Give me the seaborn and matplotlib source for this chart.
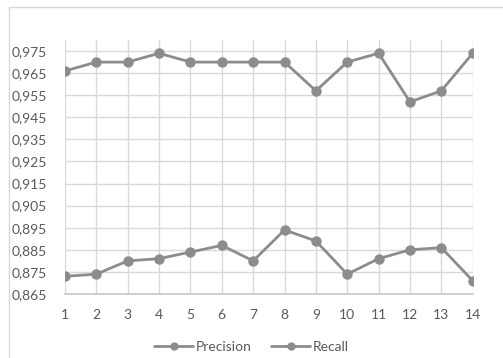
import numpy as np
import pandas as pd
import seaborn as sns
import matplotlib
matplotlib.use("Agg")
import matplotlib.pyplot as plt
from matplotlib.ticker import FuncFormatter, FixedLocator
from matplotlib.lines import Line2D

x_labels = list(range(1, 15))
precision = [0.966, 0.970, 0.970, 0.974, 0.970, 0.970, 0.970, 0.970, 0.957, 0.970, 0.974, 0.952, 0.957, 0.974]
recall = [0.873, 0.874, 0.880, 0.881, 0.884, 0.887, 0.880, 0.894, 0.889, 0.874, 0.881, 0.885, 0.886, 0.871]
y_ticks = [0.865, 0.875, 0.885, 0.895, 0.905, 0.915, 0.925, 0.935, 0.945, 0.955, 0.965, 0.975]

sns.set_theme(style="white")
plt.rcParams['font.family'] = ['Lato', 'DejaVu Sans']

line_color = "#8c8c8c"
grid_color = "#d9d9d9"
text_color = "#595959"

fig = plt.figure(figsize=(5.03, 3.58), dpi=100)
ax = fig.add_axes([65/503, 1-294/358, (472.7-65)/503, (294-40)/358])

df_p = pd.DataFrame({"x": x_labels, "y": precision})
df_r = pd.DataFrame({"x": x_labels, "y": recall})
sns.lineplot(data=df_p, x="x", y="y", ax=ax, color=line_color, marker="o",
             markersize=7.5, markeredgewidth=0, linewidth=2, label="Precision", zorder=3)
sns.lineplot(data=df_r, x="x", y="y", ax=ax, color=line_color, marker="o",
             markersize=7.5, markeredgewidth=0, linewidth=2, label="Recall", zorder=3)

ax.set_xlim(1, 14)
ax.set_ylim(0.865, 0.98)
ax.xaxis.set_major_locator(FixedLocator(x_labels))
ax.yaxis.set_major_locator(FixedLocator(y_ticks))
ax.yaxis.set_major_formatter(FuncFormatter(lambda v, p: f"{v:.3f}".replace(".", ",")))
ax.set_xlabel("")
ax.set_ylabel("")
ax.grid(True, color=grid_color, linewidth=1)
ax.set_axisbelow(True)
for s in ["top", "right", "left"]:
    ax.spines[s].set_visible(False)
ax.spines["bottom"].set_color("#c8c8c8")
ax.spines["bottom"].set_linewidth(1.2)
ax.tick_params(axis="both", length=0, labelsize=10, labelcolor=text_color)
ax.tick_params(axis="x", pad=11)
ax.tick_params(axis="y", pad=13)

ax.legend_.remove() if ax.legend_ else None
handles, labels = ax.get_legend_handles_labels()
leg = fig.legend(handles, labels, loc="center", bbox_to_anchor=(0.5, 1-347/358), ncol=2,
                 frameon=False, fontsize=10, handlelength=2.8, handletextpad=0.2,
                 columnspacing=1.4, markerscale=0.8)
for t in leg.get_texts():
    t.set_color(text_color)

fig.add_artist(Line2D([8.5/503, 8.5/503], [0, 1-6.5/358], transform=fig.transFigure, color=grid_color, linewidth=1))
fig.add_artist(Line2D([8.5/503, 1], [1-6.5/358, 1-6.5/358], transform=fig.transFigure, color=grid_color, linewidth=1))

fig.savefig("out.png", dpi=100, facecolor="white")
